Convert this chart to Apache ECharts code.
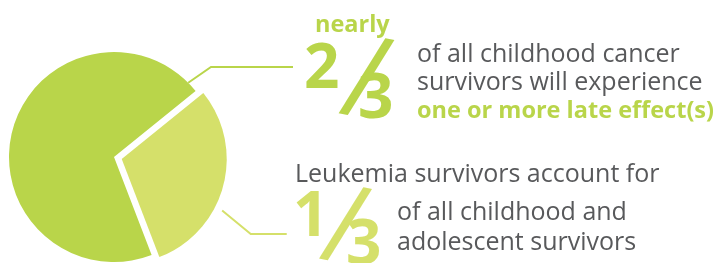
<!DOCTYPE html>
<html>
<head>
<meta charset="utf-8">
<script src="https://cdn.jsdelivr.net/npm/echarts@6/dist/echarts.min.js"></script>
<style>
	html, body { margin: 0; padding: 0; background: #fff; }
	#main_chart_pie { width: 715px; height: 263px; }
</style>
</head>
<body>
<div id="main_chart_pie"></div>
<script>
// slices as drawn in the picture (large ~70%, small ~30%)
var sliceNames = ['Survivors with one or more late effects', 'Leukemia survivors'];
var sliceValues = [70, 30];

// texts
var topLead = 'nearly';
var topFraction = ['2', '/', '3'];
var topLines = ['of all childhood cancer', 'survivors will experience'];
var topHighlight = 'one or more late effect(s)';
var bottomLead = 'Leukemia survivors account for';
var bottomFraction = ['1', '/', '3'];
var bottomLines = ['of all childhood and', 'adolescent survivors'];

var greenDark = '#b9d54a';
var greenLight = '#d5e06a';
var grey = '#58595b';
var fontName = 'Open Sans';

var pieCenter = [114, 157];
var pieRadius = 105;
var pieStart = -69;
var pieOffset = 8;

// leader lines: angle on the slice (deg, clockwise from 12 o'clock), elbow, end
var leaderAngles = [45, 118];
var leaderElbows = [[211, 67], [243, 232]];
var leaderEnds = [[293, 67], [279, 232]];

var baseK = 0.28;

function makeText(str, x, baseline, size, weight, color) {
	return {
		type: 'text',
		x: x,
		y: baseline - baseK * size,
		silent: true,
		style: {
			text: str,
			fill: color,
			fontFamily: fontName,
			fontSize: size,
			fontWeight: weight,
			align: 'left',
			verticalAlign: 'middle'
		}
	};
}

// the long slanted fraction bar, placed by its centre
function makeSlash(cx, cy, size, color) {
	return {
		type: 'text',
		x: cx,
		y: cy + (0.357 - baseK) * size,
		rotation: -0.2,
		silent: true,
		style: {
			text: '/',
			fill: color,
			fontFamily: fontName,
			fontSize: size,
			fontWeight: 'normal',
			align: 'center',
			verticalAlign: 'middle'
		}
	};
}

// offset of a slice centre when it is pulled out
function sliceShift(index) {
	var total = 0, before = 0;
	for (var i = 0; i < sliceValues.length; i++) {
		total += sliceValues[i];
		if (i < index) before += sliceValues[i];
	}
	var mid = (90 - pieStart) + (before + sliceValues[index] / 2) / total * 360;
	var rad = mid * Math.PI / 180;
	return [pieOffset * Math.sin(rad), -pieOffset * Math.cos(rad)];
}

function makeChart() {
	var chart_dom = document.getElementById('main_chart_pie');
	var pieChart = echarts.init(chart_dom, null, { renderer: 'canvas' });

	var colors = [greenDark, greenLight];
	var dataSource = [];
	for (var i = 0; i < sliceValues.length; i++) {
		dataSource.push({
			name: sliceNames[i],
			value: sliceValues[i],
			selected: i == 1,
			itemStyle: { color: colors[i] }
		});
	}

	var bodySize = 25;
	var boldSize = 23.5;
	var digitSize = 62;
	var graphics = [
		makeText(topLead, 315, 31.7, boldSize, 'bold', greenDark),
		makeText(topFraction[0], 304, 88, digitSize, 'bold', greenDark),
		makeSlash(365, 76, 116, greenDark),
		makeText(topFraction[2], 358, 118, digitSize, 'bold', greenDark),
		makeText(topLines[0], 417, 62, bodySize, 'normal', grey),
		makeText(topLines[1], 417, 90, bodySize, 'normal', grey),
		makeText(topHighlight, 417, 118, boldSize, 'bold', greenDark),

		makeText(bottomLead, 295, 181.7, bodySize, 'normal', grey),
		makeText(bottomFraction[0], 293, 236, digitSize, 'bold', greenLight),
		makeSlash(344, 223, 110, greenLight),
		makeText(bottomFraction[2], 346, 264, digitSize, 'bold', greenLight),
		makeText(bottomLines[0], 397, 220, bodySize, 'normal', grey),
		makeText(bottomLines[1], 397, 249.5, bodySize, 'normal', grey)
	];

	var option = {
		animation: false,
		graphic: { elements: graphics },
		series: [{
			name: 'survivors',
			type: 'pie',
			center: pieCenter,
			radius: pieRadius,
			startAngle: pieStart,
			clockwise: true,
			selectedMode: 'single',
			selectedOffset: pieOffset,
			avoidLabelOverlap: false,
			label: {
				show: true,
				formatter: ' ',
				fontSize: 1,
				color: 'transparent'
			},
			labelLine: {
				show: true,
				lineStyle: { width: 2 }
			},
			labelLayout: function (params) {
				var k = params.dataIndex;
				var shift = dataSource[k].selected ? sliceShift(k) : [0, 0];
				var a = leaderAngles[k] * Math.PI / 180;
				var start = [
					pieCenter[0] + shift[0] + pieRadius * Math.sin(a),
					pieCenter[1] + shift[1] - pieRadius * Math.cos(a)
				];
				return {
					x: leaderEnds[k][0],
					y: leaderEnds[k][1],
					align: 'left',
					verticalAlign: 'middle',
					labelLinePoints: [start, leaderElbows[k], leaderEnds[k]]
				};
			},
			emphasis: { disabled: true },
			data: dataSource
		}]
	};

	pieChart.setOption(option);
}

makeChart();
</script>
</body>
</html>
